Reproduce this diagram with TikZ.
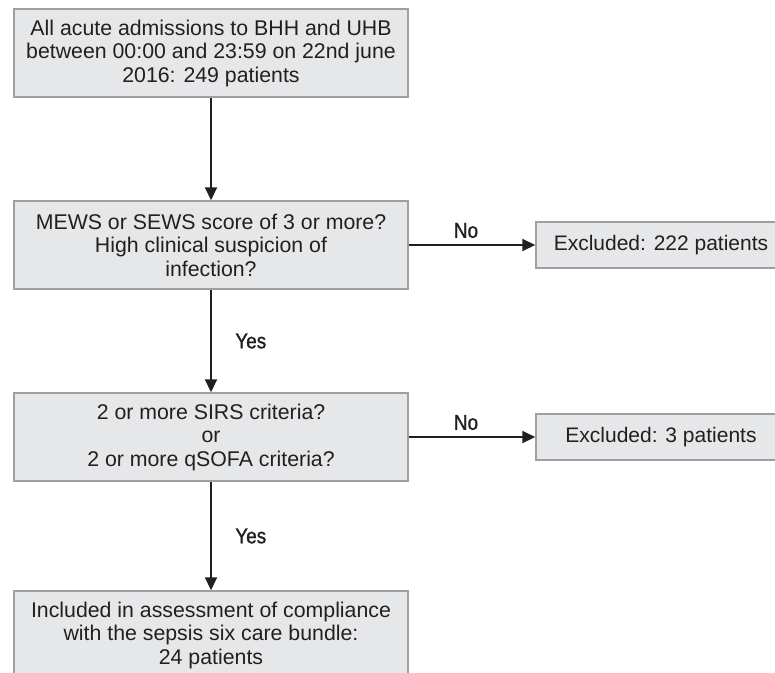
\documentclass[tikz,border=0pt]{standalone}
\usepackage{fontspec}
\setmainfont{Liberation Sans}
\newfontfamily\narrowfont[FakeStretch=0.88,FakeBold=1.2]{Liberation Sans}
\usetikzlibrary{arrows.meta,positioning}

\definecolor{boxfill}{HTML}{E6E7E8}
\definecolor{boxline}{HTML}{9D9FA2}
\definecolor{ink}{HTML}{231F20}

\tikzset{
  flowbox/.style={draw=boxline, fill=boxfill, line width=1.5pt, text=ink,
    minimum width=394pt, minimum height=88pt, inner sep=0pt, align=center,
    font=\fontsize{21.3}{23.5}\selectfont},
  exclbox/.style={draw=boxline, fill=boxfill, line width=1.5pt, text=ink,
    minimum width=250pt, minimum height=46pt, inner sep=0pt,
    font=\fontsize{21}{24}\selectfont},
  answer/.style={text=ink, font=\narrowfont\fontsize{21.5}{24}\selectfont},
}

\begin{document}
\begin{tikzpicture}[>={Triangle[length=13pt,width=12pt]}, line width=2pt, draw=ink, auto, node distance=192pt]
    \useasboundingbox (0,0) rectangle (775pt,-672pt);

    \node[flowbox] (adm) at (211pt,-53pt)
      {All acute admissions to BHH and UHB\\between 00:00 and 23:59 on 22nd june\\2016: 249 patients};
    \node[flowbox] (score) [below of=adm]
      {MEWS or SEWS score of 3 or more?\\High clinical suspicion of\\infection?};
    \node[flowbox] (crit) [below of=score]
      {2 or more SIRS criteria?\\or\\2 or more qSOFA criteria?};
    \node[flowbox] (incl) [below of=crit, yshift=-6pt]
      {Included in assessment of compliance\\with the sepsis six care bundle:\\24 patients};

    \node[exclbox] (excl1) [right of=score, node distance=450pt] {Excluded: 222 patients};
    \node[exclbox] (excl2) [right of=crit, node distance=450pt] {Excluded: 3 patients};

    \path[->, draw=ink]
    (adm)   edge                                       (score)
    (score) edge node[answer, inner sep=6pt, xshift=-6pt] {No}  (excl1)
    (score) edge node[answer, xshift=20pt] {Yes}       (crit)
    (crit)  edge node[answer, inner sep=6pt, xshift=-6pt] {No}  (excl2)
    (crit)  edge node[answer, xshift=20pt] {Yes}       (incl)
    ;
\end{tikzpicture}
\end{document}
